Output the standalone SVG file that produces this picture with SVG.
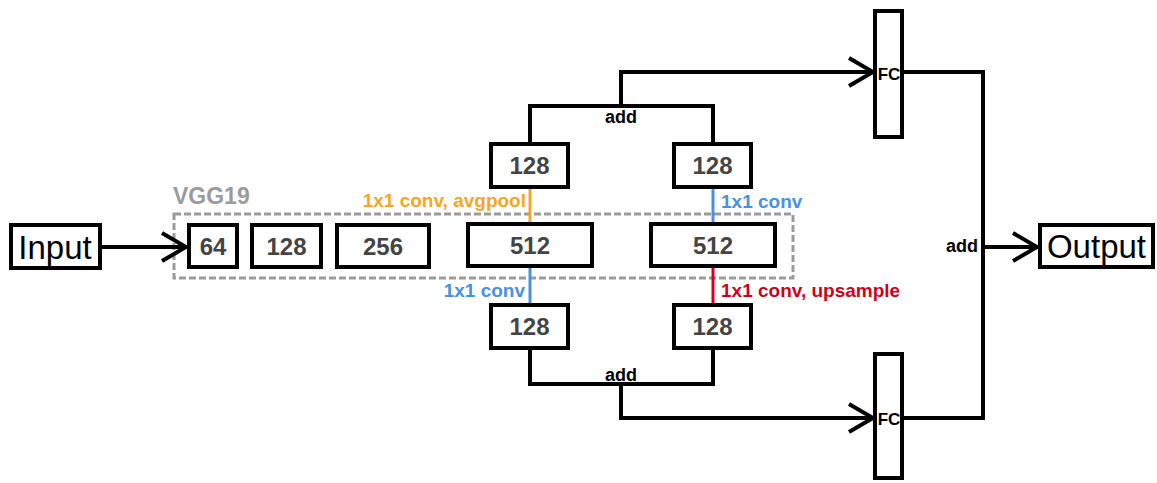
<svg xmlns="http://www.w3.org/2000/svg" width="1157" height="483" viewBox="0 0 1157 483">
<style>
.box{fill:#fff;stroke:#000;stroke-width:4}
.num{font-family:"Liberation Sans",Arial,sans-serif;font-weight:bold;font-size:24px;fill:#444;text-anchor:middle}
.big{font-family:"Liberation Sans",Arial,sans-serif;font-size:33px;fill:#000;text-anchor:middle}
.lbl{font-family:"Liberation Sans",Arial,sans-serif;font-weight:bold;font-size:18px;fill:#000}
.fc{font-family:"Liberation Sans",Arial,sans-serif;font-weight:bold;font-size:17px;fill:#000;text-anchor:middle}
.note{font-family:"Liberation Sans",Arial,sans-serif;font-weight:bold;font-size:19px}
.wire{fill:none;stroke:#000;stroke-width:4}
.arr{marker-end:url(#chev)}
</style>
<defs>
<marker id="chev" markerUnits="userSpaceOnUse" markerWidth="30" markerHeight="34" viewBox="0 0 30 34" refX="27" refY="17" orient="auto">
<path d="M3,3 L27,17 L3,31" fill="none" stroke="#000" stroke-width="4"/>
</marker>
</defs>
<rect id="vgg19-group" x="174" y="214" width="619" height="64" fill="none" stroke="#9b9b9b" stroke-width="3" stroke-dasharray="7 3"/>
<text x="173" y="204" class="note" style="font-size:23px;fill:#9b9b9b">VGG19</text>
<g id="connectors">
<path class="wire arr" d="M102,247 L186,247"/>
<path class="wire" d="M530,144 L530,106 L713,106 L713,144"/>
<path class="wire arr" d="M621,106 L621,72 L873,72"/>
<path class="wire" d="M530,348 L530,384 L713,384 L713,348"/>
<path class="wire arr" d="M621,384 L621,418 L873,418"/>
<path class="wire" d="M902,72 L983,72 L983,418 L902,418"/>
<path class="wire arr" d="M983,247 L1037,247"/>
<line x1="530" y1="188" x2="530" y2="222" stroke="#f5a623" stroke-width="3"/>
<line x1="713" y1="188" x2="713" y2="222" stroke="#4a90e2" stroke-width="3"/>
<line x1="530" y1="268" x2="530" y2="304" stroke="#4a90e2" stroke-width="3"/>
<line x1="713" y1="268" x2="713" y2="304" stroke="#d0021b" stroke-width="3"/>
<text x="621" y="123" class="lbl" text-anchor="middle">add</text>
<text x="621" y="381" class="lbl" text-anchor="middle">add</text>
<text x="978" y="252" class="lbl" text-anchor="end">add</text>
<text x="526" y="207" class="note" fill="#f5a623" text-anchor="end">1x1 conv, avgpool</text>
<text x="721" y="208" class="note" fill="#4a90e2">1x1 conv</text>
<text x="525" y="297" class="note" fill="#4a90e2" text-anchor="end">1x1 conv</text>
<text x="721" y="297" class="note" fill="#d0021b">1x1 conv, upsample</text>
</g>
<g id="input"><rect class="box" x="11" y="225" width="89" height="43"/><text class="big" x="55" y="259">Input</text></g>
<g id="conv64"><rect class="box" x="189" y="225" width="48" height="42"/><text class="num" x="213" y="255">64</text></g>
<g id="conv128"><rect class="box" x="252" y="225" width="69" height="42"/><text class="num" x="286.5" y="255">128</text></g>
<g id="conv256"><rect class="box" x="337" y="225" width="92" height="42"/><text class="num" x="383" y="255">256</text></g>
<g id="conv512a"><rect class="box" x="468" y="224" width="124" height="42"/><text class="num" x="530" y="254">512</text></g>
<g id="conv512b"><rect class="box" x="651" y="224" width="124" height="42"/><text class="num" x="713" y="254">512</text></g>
<g id="top128a"><rect class="box" x="491" y="144" width="77" height="43"/><text class="num" x="529.5" y="174">128</text></g>
<g id="top128b"><rect class="box" x="674" y="144" width="77" height="43"/><text class="num" x="712.5" y="174">128</text></g>
<g id="bot128a"><rect class="box" x="491" y="305" width="77" height="43"/><text class="num" x="529.5" y="335">128</text></g>
<g id="bot128b"><rect class="box" x="674" y="305" width="77" height="43"/><text class="num" x="712.5" y="335">128</text></g>
<g id="fc-top"><rect class="box" x="875" y="11" width="27" height="126"/><text class="fc" x="889" y="80">FC</text></g>
<g id="fc-bottom"><rect class="box" x="875" y="354" width="27" height="124"/><text class="fc" x="889" y="425">FC</text></g>
<g id="output"><rect class="box" x="1040" y="225" width="113" height="42"/><text class="big" x="1096.5" y="258">Output</text></g>
</svg>
